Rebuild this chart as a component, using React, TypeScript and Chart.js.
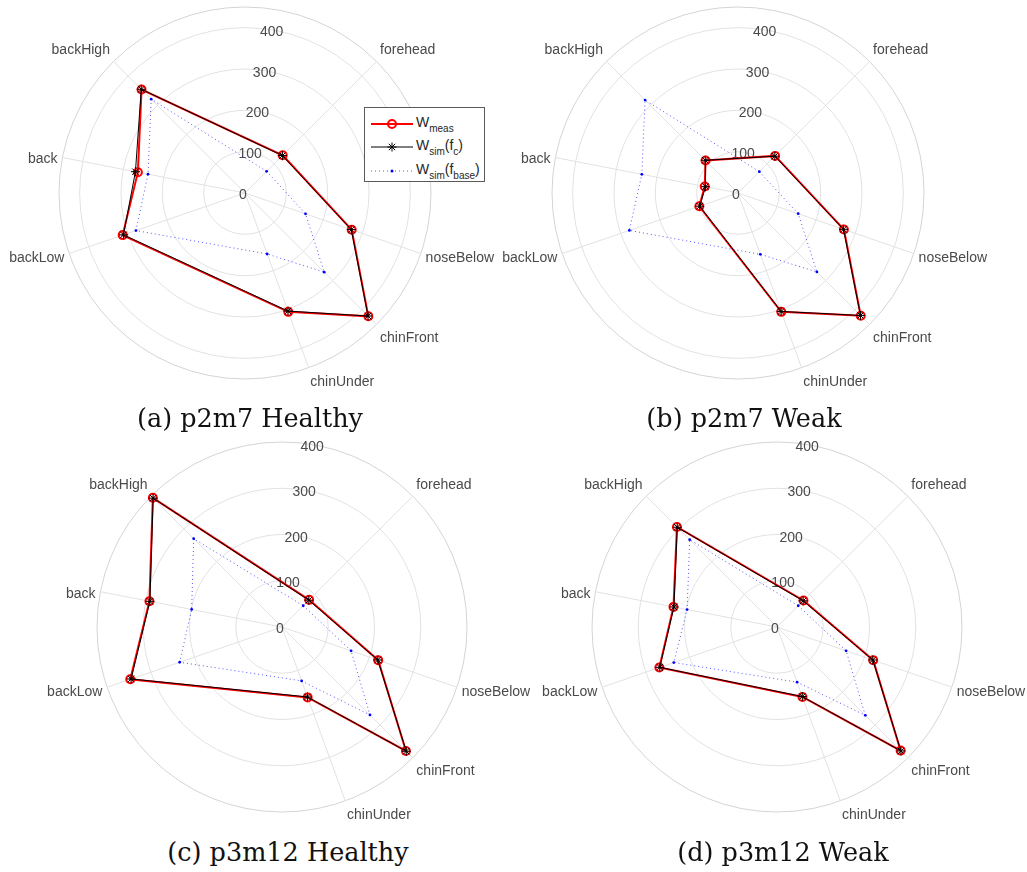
import React, { useEffect, useRef } from 'react';
import { Chart, registerables } from 'chart.js';

Chart.register(...registerables);

// Sensor sites around the head and the direction of each one (degrees, clockwise from top)
const sensors = ['forehead', 'noseBelow', 'chinFront', 'chinUnder', 'backLow', 'back', 'backHigh'];
const sensorAngles = [45, 109, 135, 160, 251, 281, 315];

// p2m7, healthy
const p2m7HealthyMeas = [129, 273, 422, 306, 313, 264, 354];
const p2m7HealthySimFc = [128, 272, 421, 304, 311, 270, 355];
const p2m7HealthySimBase = [74, 155, 271, 157, 279, 239, 321];

// p2m7, weak
const p2m7WeakMeas = [127, 271, 420, 306, 99, 82, 111];
const p2m7WeakSimFc = [126, 270, 419, 305, 98, 80, 112];
const p2m7WeakSimBase = [73, 154, 270, 158, 278, 237, 318];

// p3m12, healthy
const p3m12HealthyMeas = [83, 220, 379, 162, 347, 292, 395];
const p3m12HealthySimFc = [82, 219, 380, 161, 345, 291, 394];
const p3m12HealthySimBase = [65, 158, 269, 124, 234, 199, 270];

// p3m12, weak
const p3m12WeakMeas = [81, 220, 378, 161, 269, 228, 306];
const p3m12WeakSimFc = [80, 219, 379, 160, 268, 227, 305];
const p3m12WeakSimBase = [65, 158, 270, 127, 236, 198, 267];

// radial grid circles and their printed labels
const ringsTo450 = [0, 100, 200, 300, 400, 450];
const ringsTo400 = [0, 100, 200, 300, 400];
const radialTickLabels = [0, 100, 200, 300, 400];

const captions = ['(a) p2m7 Healthy', '(b) p2m7 Weak', '(c) p3m12 Healthy', '(d) p3m12 Weak'];

// one label slot per degree so every sensor sits at its own direction
const DEGREES = 360;
const R_AXIS_DEG = 10; // direction along which the radial tick labels are written

const angleLabels: string[] = Array.from({ length: DEGREES }, () => '');
sensors.forEach((s, k) => {
  angleLabels[sensorAngles[k]] = s;
});

function onAngles(values: number[]): (number | null)[] {
  const out: (number | null)[] = Array.from({ length: DEGREES }, () => null);
  values.forEach((v, k) => {
    out[sensorAngles[k]] = v;
  });
  return out;
}

const TEXT_COLOR = '#4a4a4a';
const LABEL_FONT = '14px "Liberation Sans", Arial, Helvetica, sans-serif';

const polarText = {
  id: 'polarText',
  beforeDatasetsDraw(chart: any) {
    const scale = chart.scales.r;
    const ctx: CanvasRenderingContext2D = chart.ctx;
    ctx.save();
    ctx.font = LABEL_FONT;
    ctx.fillStyle = TEXT_COLOR;

    sensors.forEach((name, k) => {
      const p = scale.getPointPosition(sensorAngles[k], scale.drawingArea + 5);
      const c = Math.cos(p.angle);
      const s = Math.sin(p.angle);
      ctx.textAlign = c > 0.2 ? 'left' : c < -0.2 ? 'right' : 'center';
      ctx.textBaseline = s < -0.5 ? 'bottom' : s > 0.5 ? 'top' : 'middle';
      const dy = s < -0.5 ? -1 : s > 0.5 ? 3 : 3;
      ctx.fillText(name, p.x, p.y + dy);
    });

    ctx.textAlign = 'center';
    ctx.textBaseline = 'middle';
    radialTickLabels.forEach((v) => {
      const p = scale.getPointPositionForValue(R_AXIS_DEG, v);
      ctx.fillText(String(v), p.x - 2, p.y + 2);
    });
    ctx.restore();
  },
};

type Panel = {
  meas: number[];
  simFc: number[];
  simBase: number[];
  rings: number[];
  left: number;
  top: number;
  width: number;
  height: number;
  cx: number;
  cy: number;
  radius: number;
};

const panels: Panel[] = [
  { meas: p2m7HealthyMeas, simFc: p2m7HealthySimFc, simBase: p2m7HealthySimBase, rings: ringsTo450,
    left: 0, top: 0, width: 505, height: 400, cx: 245, cy: 193, radius: 186 },
  { meas: p2m7WeakMeas, simFc: p2m7WeakSimFc, simBase: p2m7WeakSimBase, rings: ringsTo450,
    left: 495, top: 0, width: 532, height: 400, cx: 738, cy: 193, radius: 186 },
  { meas: p3m12HealthyMeas, simFc: p3m12HealthySimFc, simBase: p3m12HealthySimBase, rings: ringsTo400,
    left: 0, top: 430, width: 545, height: 405, cx: 282, cy: 627, radius: 185 },
  { meas: p3m12WeakMeas, simFc: p3m12WeakSimFc, simBase: p3m12WeakSimBase, rings: ringsTo400,
    left: 505, top: 430, width: 522, height: 405, cx: 777, cy: 627, radius: 185 },
];

const captionPos = [
  { x: 250, y: 418 },
  { x: 744, y: 418 },
  { x: 288, y: 852 },
  { x: 783, y: 852 },
];

function RadarPanel({ panel }: { panel: Panel }) {
  const ref = useRef<HTMLCanvasElement>(null);

  useEffect(() => {
    const canvas = ref.current;
    if (!canvas) return;
    const padLeft = panel.cx - panel.radius - panel.left;
    const padTop = panel.cy - panel.radius - panel.top;
    const padRight = panel.width - padLeft - 2 * panel.radius;
    const padBottom = panel.height - padTop - 2 * panel.radius;
    const rings = panel.rings;
    const lastRing = rings.length - 1;

    const chart = new Chart(canvas, {
      type: 'radar',
      data: {
        labels: angleLabels,
        datasets: [
          {
            label: 'W_sim(f_c)',
            data: onAngles(panel.simFc),
            borderColor: '#000000',
            borderWidth: 1,
            pointStyle: 'star',
            pointRadius: 4.5,
            pointBorderWidth: 1,
            pointBorderColor: '#000000',
            pointBackgroundColor: 'rgba(0,0,0,0)',
            fill: false,
            spanGaps: true,
            order: 0,
          },
          {
            label: 'W_sim(f_base)',
            data: onAngles(panel.simBase),
            borderColor: 'rgba(0,0,255,0.85)',
            borderWidth: 0.8,
            borderDash: [1, 3],
            pointStyle: 'circle',
            pointRadius: 1.4,
            pointBorderWidth: 0,
            pointBackgroundColor: '#0000ff',
            fill: false,
            spanGaps: true,
            order: 1,
          },
          {
            label: 'W_meas',
            data: onAngles(panel.meas),
            borderColor: '#ff0000',
            borderWidth: 2,
            pointStyle: 'circle',
            pointRadius: 4,
            pointBorderWidth: 2,
            pointBorderColor: '#ff0000',
            pointBackgroundColor: 'rgba(0,0,0,0)',
            fill: false,
            spanGaps: true,
            order: 2,
          },
        ],
      },
      options: {
        responsive: false,
        animation: false,
        events: [],
        layout: { padding: { left: padLeft, top: padTop, right: padRight, bottom: padBottom } },
        plugins: { legend: { display: false }, tooltip: { enabled: false } },
        scales: {
          r: {
            min: 0,
            max: rings[lastRing],
            startAngle: 0,
            afterBuildTicks: (scale: any) => {
              scale.ticks = rings.map((v) => ({ value: v }));
            },
            ticks: { display: false },
            grid: {
              circular: true,
              color: (ctx: any) => (ctx.index === lastRing ? '#d4d4d4' : '#e2e2e2'),
              lineWidth: 1,
            },
            angleLines: {
              display: true,
              color: '#e2e2e2',
              lineWidth: (ctx: any) => (ctx.label ? 1 : 0),
            },
            pointLabels: { display: false },
          },
        },
      },
      plugins: [polarText],
    } as any);

    return () => chart.destroy();
  }, [panel]);

  return (
    <canvas
      ref={ref}
      width={panel.width}
      height={panel.height}
      style={{ position: 'absolute', left: panel.left, top: panel.top }}
    />
  );
}

const legendFont = '"Liberation Sans", Arial, Helvetica, sans-serif';

function Sub({ children }: { children: React.ReactNode }) {
  return (
    <span style={{ fontSize: 10, position: 'relative', top: 5 }}>{children}</span>
  );
}

function Legend() {
  const rowY = [16, 39, 63];
  return (
    <div
      style={{
        position: 'absolute',
        left: 364,
        top: 107,
        width: 119,
        height: 73,
        background: '#ffffff',
        border: '1px solid #5a5a5a',
        fontFamily: legendFont,
        color: '#262626',
      }}
    >
      <svg width={119} height={73} style={{ position: 'absolute', left: 0, top: 0 }}>
        <line x1={6} y1={rowY[0]} x2={48} y2={rowY[0]} stroke="#ff0000" strokeWidth={2} />
        <circle cx={27} cy={rowY[0]} r={4} fill="none" stroke="#ff0000" strokeWidth={2} />
        <line x1={6} y1={rowY[1]} x2={48} y2={rowY[1]} stroke="#000000" strokeWidth={1} />
        <g stroke="#000000" strokeWidth={1}>
          <line x1={22.5} y1={rowY[1]} x2={31.5} y2={rowY[1]} />
          <line x1={27} y1={rowY[1] - 4.5} x2={27} y2={rowY[1] + 4.5} />
          <line x1={23.8} y1={rowY[1] - 3.2} x2={30.2} y2={rowY[1] + 3.2} />
          <line x1={23.8} y1={rowY[1] + 3.2} x2={30.2} y2={rowY[1] - 3.2} />
        </g>
        <line x1={6} y1={rowY[2]} x2={48} y2={rowY[2]} stroke="rgba(0,0,255,0.85)" strokeWidth={0.8} strokeDasharray="1 3" />
        <circle cx={27} cy={rowY[2]} r={1.5} fill="#0000ff" />
      </svg>
      {[
        <>W<Sub>meas</Sub></>,
        <>W<Sub>sim</Sub>(f<Sub>c</Sub>)</>,
        <>W<Sub>sim</Sub>(f<Sub>base</Sub>)</>,
      ].map((content, k) => (
        <div
          key={k}
          style={{
            position: 'absolute',
            left: 51,
            top: rowY[k] - 12,
            height: 20,
            lineHeight: '20px',
            fontSize: 14,
            whiteSpace: 'nowrap',
          }}
        >
          {content}
        </div>
      ))}
    </div>
  );
}

export default function App() {
  return (
    <div
      style={{
        position: 'absolute',
        left: 0,
        top: 0,
        width: 1027,
        height: 872,
        background: '#ffffff',
        overflow: 'hidden',
      }}
    >
      {panels.map((p, k) => (
        <RadarPanel key={k} panel={p} />
      ))}
      <Legend />
      {captions.map((text, k) => (
        <div
          key={text}
          style={{
            position: 'absolute',
            left: captionPos[k].x - 200,
            top: captionPos[k].y - 17,
            width: 400,
            height: 34,
            lineHeight: '34px',
            textAlign: 'center',
            fontFamily: '"DejaVu Serif", "Liberation Serif", serif',
            fontSize: 25.5,
            color: '#111111',
            whiteSpace: 'nowrap',
          }}
        >
          {text}
        </div>
      ))}
    </div>
  );
}
